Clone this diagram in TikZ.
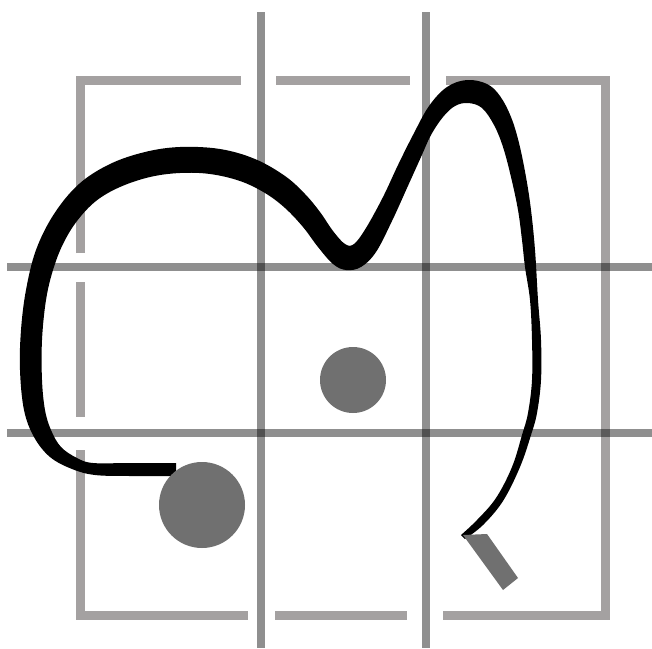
\documentclass[tikz,border=0pt]{standalone}
\begin{document}
\begin{tikzpicture}[x=0.5pt,y=-0.5pt,
  framestyle/.style={draw=framegray,line width=4.5pt},
  gridstyle/.style={draw=black,draw opacity=0.44,line width=4pt},
  blob/.style={fill=dotgray}]
\definecolor{framegray}{RGB}{164,161,161}
\definecolor{dotgray}{RGB}{112,112,112}
\useasboundingbox (0,0) rectangle (652,648);
\fill[white] (0,0) rectangle (652,648);
% frame segments
\draw[framestyle] (80,253) -- (80,80) -- (241,80);
\draw[framestyle] (276,80) -- (410,80);
\draw[framestyle] (446,80) -- (605,80) -- (605,615) -- (443,615);
\draw[framestyle] (275,615) -- (407,615);
\draw[framestyle] (80,450) -- (80,615) -- (248,615);
\draw[framestyle] (80,282) -- (80,417);
% grid lines
\coordinate (v1t) at (261,12); \coordinate (v1b) at (261,648);
\coordinate (v2t) at (426,12); \coordinate (v2b) at (426,648);
\coordinate (h1l) at (7,267); \coordinate (h1r) at (652,267);
\coordinate (h2l) at (7,433); \coordinate (h2r) at (652,433);
\draw[gridstyle] (v1t) -- (v1b);
\draw[gridstyle] (v2t) -- (v2b);
\draw[gridstyle] (h1l) -- (h1r);
\draw[gridstyle] (h2l) -- (h2r);
% thick black stroke of varying width
\fill[black] plot[smooth,tension=0.6] coordinates {
 (176,476) (130,476) (95,475) (72,469) (50,457) (34,437) (24,410) (20,370)
 (21,330) (26,290) (36,250) (54,214) (79,184) (110,164) (145,152) (180,147)
 (220,149) (255,159) (285,176) (305,194) (320,212) (333,231) (345,244)
 (354,244) (366,228) (383,197) (398,165) (413,135) (429,106) (447,87)
 (467,80) (487,84) (500,96) (511,117) (519,143) (526,177) (531,210)
 (535,250) (538,300) (541,340) (541,380) (537,413) (531,435) (520,467)
 (503,501) (483,525) (465,539)}
 -- plot[smooth,tension=0.6] coordinates {
 (461,535) (477,520) (496,498) (512,467) (522,435) (528,413) (532,380)
 (532,340) (530,300) (525,267) (522,240) (518,210) (511,177) (503,147)
 (494,125) (482,108) (468,103) (455,106) (443,117) (431,135) (421,157)
 (407,188) (392,221) (376,252) (361,267) (346,270) (333,264) (318,247)
 (303,227) (285,208) (265,193) (240,181) (210,174) (180,173) (150,177)
 (120,187) (96,201) (77,221) (63,244) (53,270) (46,300) (42,340) (42,380)
 (45,410) (51,430) (61,447) (77,458) (93,463) (130,463) (176,463)}
 -- cycle;
% dots and bar
\fill[blob] (202,505) circle[radius=21.5pt];
\fill[blob] (353,380) circle[radius=16.5pt];
\fill[blob] (463,535) -- (487,534) -- (518,578) -- (503,590) -- cycle;
\end{tikzpicture}
\end{document}
